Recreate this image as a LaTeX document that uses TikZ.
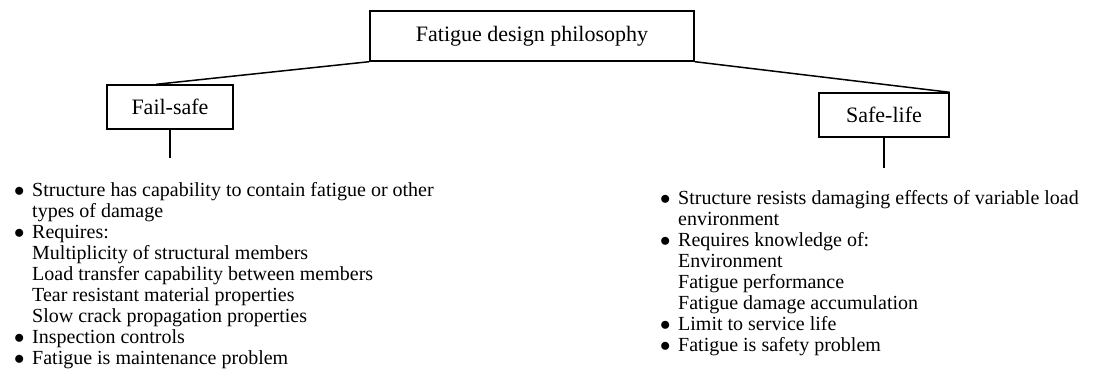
\documentclass[tikz,border=0pt]{standalone}
\usepackage{fontspec}
\setmainfont{Liberation Serif}
\usepackage{tikz}
\usetikzlibrary{positioning,calc}

\newcommand{\bl}{\makebox[18pt][l]{$\bullet$}}
\newcommand{\ind}{\hspace*{18pt}}

\begin{document}
\begin{tikzpicture}[x=1pt, y=1pt,
    boxnode/.style={draw, line width=1.4pt, inner sep=0pt, font=\fontsize{22}{26}\selectfont},
    listnode/.style={inner sep=0pt, align=left, anchor=base west, font=\fontsize{20}{21.1}\selectfont},
    link/.style={line width=1.5pt}]
    \useasboundingbox (0,0) rectangle (1093,374);

    % Boxes
    \node[boxnode, minimum width=324pt, minimum height=50pt] (top) at (532, 338) {Fatigue design philosophy};
    \node[boxnode, minimum width=126pt, minimum height=44pt] (fail) at (170, 267) {Fail-safe};
    \node[boxnode, minimum width=130pt, minimum height=44pt] (safe) at (884, 259) {Safe-life};

    % Branches
    \draw[link] (top.south west) -- ([xshift=50pt]fail.north west);
    \draw[link] (top.south east) -- (safe.north east);
    \coordinate (failend) at ([yshift=-28pt]fail.south);
    \coordinate (safeend) at ([yshift=-30pt]safe.south);
    \draw[link] (fail.south) -- (failend);
    \draw[link] (safe.south) -- (safeend);

    % Lists (base = last line)
    \node[listnode] (faillist) at (14, 9) {%
        \bl Structure has capability to contain fatigue or other\\
        \ind types of damage\\
        \bl Requires:\\
        \ind Multiplicity of structural members\\
        \ind Load transfer capability between members\\
        \ind Tear resistant material properties\\
        \ind Slow crack propagation properties\\
        \bl Inspection controls\\
        \bl Fatigue is maintenance problem};
    \node[listnode] (safelist) at (660, 22) {%
        \bl Structure resists damaging effects of variable load\\
        \ind environment\\
        \bl Requires knowledge of:\\
        \ind Environment\\
        \ind Fatigue performance\\
        \ind Fatigue damage accumulation\\
        \bl Limit to service life\\
        \bl Fatigue is safety problem};
\end{tikzpicture}
\end{document}
